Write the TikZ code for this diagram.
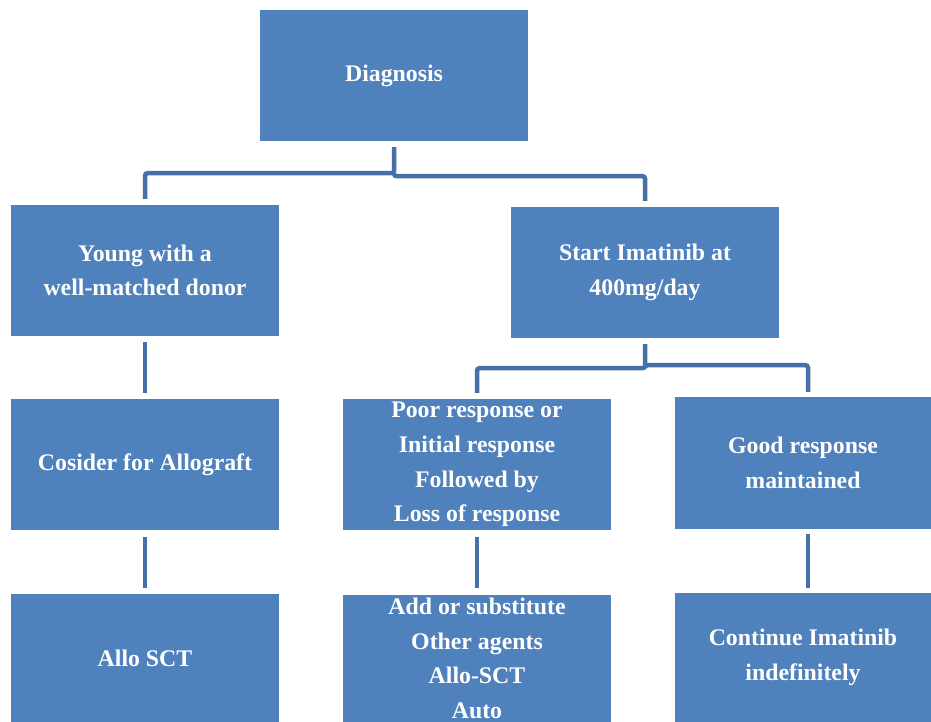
\documentclass[tikz,border=0pt]{standalone}
\usepackage{fontspec}
\setmainfont{Liberation Serif}
\definecolor{boxfill}{HTML}{4F81BD}
\definecolor{linkcol}{HTML}{4571A8}
\begin{document}
\begin{tikzpicture}[x=1pt,y=-1pt,
  stepbox/.style={rectangle, fill=boxfill, inner sep=0pt, text=white,
    align=center, font=\fontsize{23.8}{34.7}\selectfont\bfseries},
  link/.style={draw=linkcol, line width=4.5pt, rounded corners=2.5pt}]
\useasboundingbox (0,0) rectangle (931,722);

% boxes
\node[stepbox, minimum width=268pt, minimum height=131pt] (diag) at (394,75.5) {Diagnosis};
\node[stepbox, minimum width=268pt, minimum height=131pt] (young) at (145,270.5) {Young with a\\well-matched donor};
\node[stepbox, minimum width=268pt, minimum height=131pt] (imat) at (645,272.5) {Start Imatinib at\\400mg/day};
\node[stepbox, minimum width=268pt, minimum height=131pt] (allo) at (145,464.5) {Cosider for Allograft};
\node[stepbox, minimum width=268pt, minimum height=131pt] (poor) at (477,464.5) {Poor response or\\Initial response\\Followed by\\Loss of response};
\node[stepbox, minimum width=256pt, minimum height=132pt] (good) at (803,463) {Good response\\maintained};
\node[stepbox, minimum width=268pt, minimum height=128pt] (sct) at (145,658) {Allo SCT};
\node[stepbox, minimum width=268pt, minimum height=127pt] (add) at (477,658.5) {Add or substitute\\Other agents\\Allo-SCT\\Auto};
\node[stepbox, minimum width=256pt, minimum height=129pt] (cont) at (803,657.5) {Continue Imatinib\\indefinitely};

% branch under the diagnosis
\coordinate (d0) at ([yshift=-6pt]diag.south);
\draw[link] (d0) -- ++(0,26) -| ([yshift=6pt]young.north);
\draw[link] ([yshift=-26pt]d0) -- ++(0,3) -| ([yshift=6pt]imat.north);

% branch under imatinib
\coordinate (i0) at ([yshift=-6pt]imat.south);
\draw[link] (i0) -- ++(0,24) -| ([yshift=6pt]poor.north);
\draw[link] ([yshift=-24pt]i0) -- ++(0,-3) -| ([yshift=5pt]good.north -| 808,0);

% straight links
\draw[link] ([yshift=-6pt]young.south) -- ([yshift=6pt]allo.north);
\draw[link] ([yshift=-7pt]allo.south) -- ([yshift=6pt]sct.north);
\draw[link] ([yshift=-7pt]poor.south) -- ([yshift=7pt]add.north);
\draw[link] ([yshift=-5pt]good.south -| 808,0) -- ([yshift=5pt]cont.north -| 808,0);
\end{tikzpicture}
\end{document}
